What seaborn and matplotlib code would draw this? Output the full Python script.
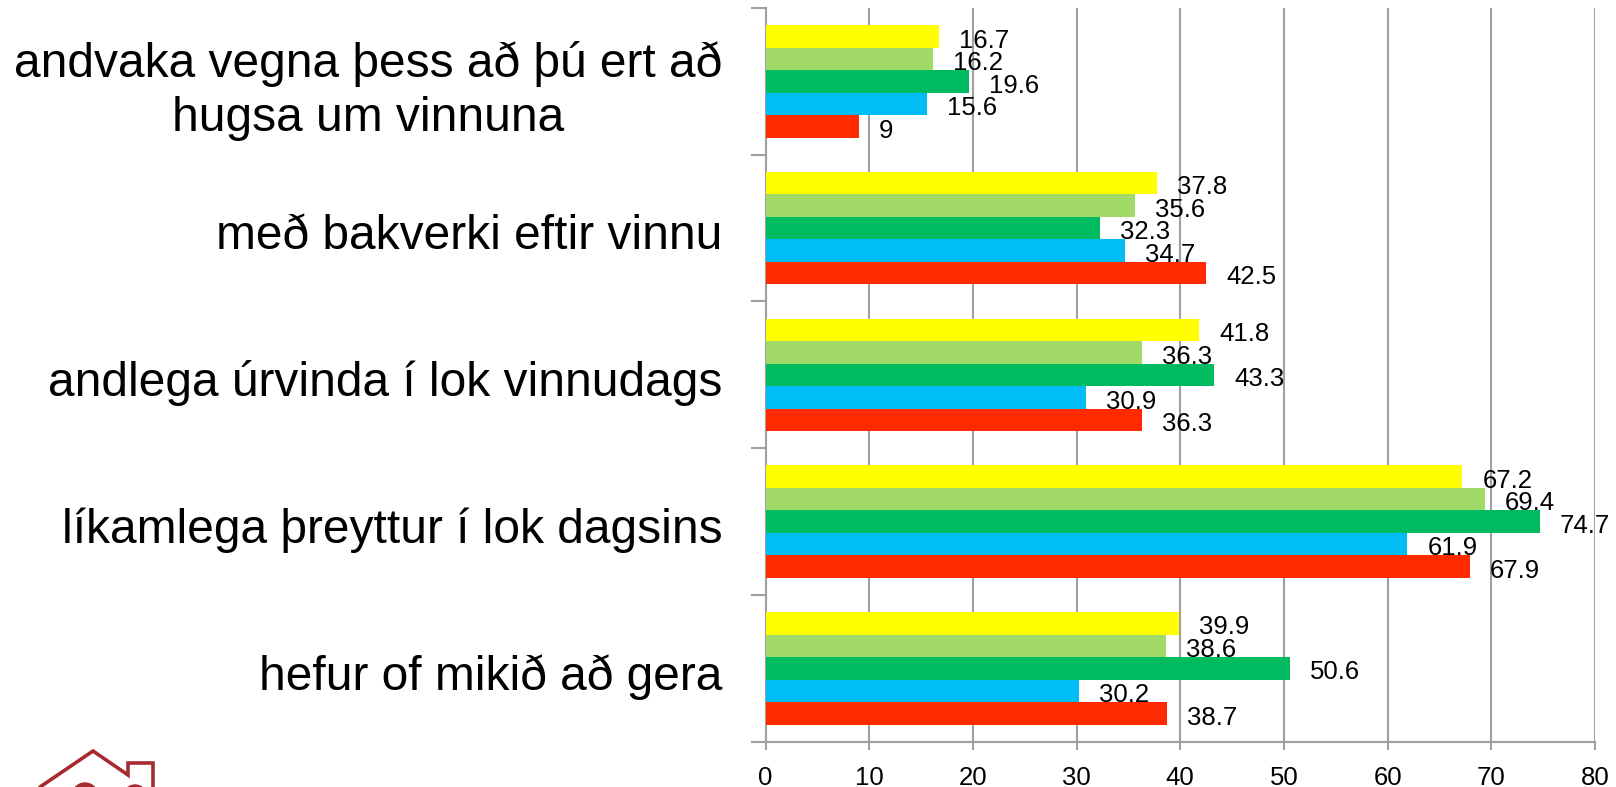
import matplotlib
matplotlib.use('Agg')
import matplotlib.pyplot as plt
from matplotlib.patches import Circle
from matplotlib.transforms import ScaledTranslation
import seaborn as sns
import pandas as pd
import numpy as np

categories = ['andvaka vegna þess að þú ert að\nhugsa um vinnuna',
              'með bakverki eftir vinnu',
              'andlega úrvinda í lok vinnudags',
              'líkamlega þreyttur í lok dagsins',
              'hefur of mikið að gera']
# the chart has no legend, so the series are only named after their colour
yellow = [16.7, 37.8, 41.8, 67.2, 39.9]
light_green = [16.2, 35.6, 36.3, 69.4, 38.6]
green = [19.6, 32.3, 43.3, 74.7, 50.6]
blue = [15.6, 34.7, 30.9, 61.9, 30.2]
red = [9, 42.5, 36.3, 67.9, 38.7]
x_ticks = [0, 10, 20, 30, 40, 50, 60, 70, 80]

sns.set_style('white')
plt.rcParams['font.family'] = ['Liberation Sans', 'DejaVu Sans']

df = pd.DataFrame({'flokkur': categories, 'yellow': yellow, 'light_green': light_green,
                   'green': green, 'blue': blue, 'red': red})
df = df.melt(id_vars='flokkur', var_name='series', value_name='value')
colors = {'yellow': '#FFFF00', 'light_green': '#A1DA68', 'green': '#00BB5F',
          'blue': '#00BDF6', 'red': '#FF2A00'}
grey = '#A0A0A0'

fig = plt.figure(figsize=(16.16, 7.87), dpi=100)
ax = fig.add_axes([765.5 / 1616, 1 - 741.7 / 787, 829.5 / 1616, 733.7 / 787])

sns.barplot(data=df, y='flokkur', x='value', hue='series', order=categories,
            hue_order=list(colors), palette=colors, width=0.767, dodge=True,
            errorbar=None, legend=False, saturation=1, linewidth=0, ax=ax, zorder=3)

for bars in ax.containers:
    for txt in ax.bar_label(bars, fmt='%g', padding=14.4, fontsize=18.5, color='black', zorder=4):
        txt.xyann = (14.4, -3)

ax.set_xlim(0, 80)
ax.set_ylim(4.5, -0.5)
ax.set_xticks(x_ticks)
ax.set_xlabel('')
ax.set_ylabel('')
ax.grid(axis='x', color=grey, linewidth=1.5, zorder=0)
ax.set_axisbelow(True)

sns.despine(ax=ax, top=True, right=True)
for side in ['left', 'bottom']:
    ax.spines[side].set_color(grey)
    ax.spines[side].set_linewidth(1.5)

# ticks sit between the groups, labels stay at the group centres
ax.set_yticks(np.arange(-0.5, 5), minor=True)
ax.tick_params(axis='y', which='minor', left=True, length=10.8, width=1.5, color=grey)
ax.tick_params(axis='y', which='major', left=False, length=10.8, pad=20, labelsize=34.5, labelcolor='black')
ax.tick_params(axis='x', bottom=True, length=6, width=1.5, color=grey, pad=11.5,
               labelsize=18.5, labelcolor='black')

shift = ScaledTranslation(0, -2.5 / 72, fig.dpi_scale_trans)
for i, label in enumerate(ax.get_yticklabels()):
    label.set_multialignment('center')
    label.set_linespacing(1.25)
    if i > 0:
        label.set_transform(label.get_transform() + shift)

# house logo cut off by the lower edge
logo = '#A62B30'
logo_ax = fig.add_axes([0, 0, 1, 1], facecolor='none')
logo_ax.set_xlim(0, 1616)
logo_ax.set_ylim(787, 0)
logo_ax.axis('off')
logo_ax.plot([40, 93, 128, 128, 153, 153], [787, 751, 775, 763, 763, 787],
             color=logo, linewidth=2.6, solid_joinstyle='miter')
logo_ax.add_patch(Circle((85, 796), 13, color=logo))
logo_ax.add_patch(Circle((135, 797), 12, color=logo))

fig.savefig('out.png', dpi=100)
